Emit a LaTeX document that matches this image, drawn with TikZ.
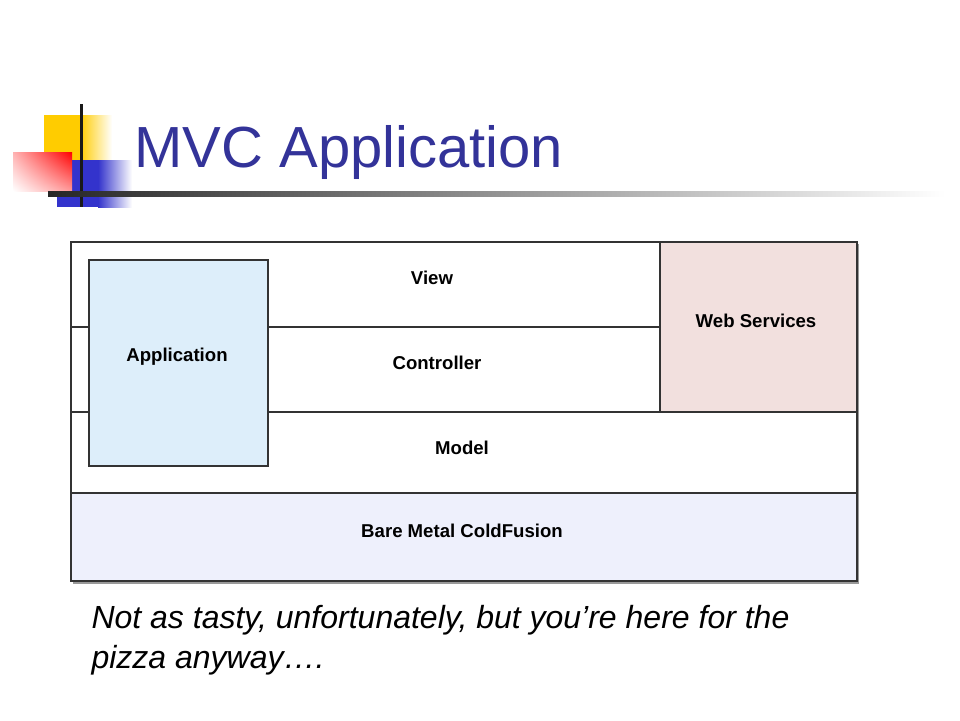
\documentclass[tikz,border=0pt]{standalone}
\usepackage{fontspec}
\setmainfont{Liberation Sans}
\usetikzlibrary{positioning,shadings}

\definecolor{titleblue}{HTML}{333399}
\definecolor{appblue}{HTML}{DDEEFA}
\definecolor{webpink}{HTML}{F2E0DE}
\definecolor{metalblue}{HTML}{EEF0FC}
\definecolor{logoyellow}{HTML}{FFCC00}
\definecolor{logoblue}{HTML}{3333CC}
\definecolor{framegray}{HTML}{333333}

\tikzset{
  layer/.style={rectangle,draw=framegray,line width=1.6pt,inner sep=0pt,anchor=north west},
  boxlabel/.style={font=\fontsize{18.6}{21}\selectfont\bfseries,text=black}
}

\begin{document}
\begin{tikzpicture}[x=1pt,y=-1pt]
  \useasboundingbox (0,0) rectangle (960,720);

  % logo
  \fill[logoyellow] (44,115) rectangle (80,160);
  \shade[left color=logoyellow,right color=white] (80,115) rectangle (112,160);
  \fill[logoblue] (57,160) rectangle (98,207);
  \shade[left color=logoblue,right color=white] (98,160) rectangle (132,207);
  \shade[upper right=red,upper left=red!30,lower left=white,lower right=red!40] (13,152) rectangle (72,191);
  \draw[line width=3pt,black!90] (81,104) -- (81,207);
  \shade[left color=black!85,middle color=black!30,right color=white] (48,191) rectangle (945,196);

  \node[anchor=base west,text=titleblue,font=\fontsize{58}{60}\selectfont] (title) at (131,167) {MVC Application};

  % diagram
  \fill[black!40] (73,244) rectangle (859,584);
  \begin{scope}[every node/.style={layer,fill=white}]
    \node[minimum width=589pt,minimum height=85pt] (view) at (70,241) {};
    \node[minimum width=589pt,minimum height=85pt] (controller) at (70,326) {};
    \node[minimum width=197pt,minimum height=170pt,fill=webpink] (web) at (659,241) {};
    \node[minimum width=786pt,minimum height=81pt] (model) at (70,411) {};
    \node[minimum width=786pt,minimum height=88pt,fill=metalblue] (metal) at (70,492) {};
    \node[minimum width=179pt,minimum height=206pt,fill=appblue] (app) at (88,259) {};
  \end{scope}

  \begin{scope}[every node/.style={boxlabel}]
    \node (viewlabel) at (432,278) {View};
    \node (controllerlabel) at (437,363) {Controller};
    \node (weblabel) at (756,321) {Web Services};
    \node (applabel) at (177,357) {Application};
    \node (modellabel) at (462,448) {Model};
    \node (metallabel) at (462,531) {Bare Metal ColdFusion};
  \end{scope}

  \node[anchor=base west,align=left,font=\itshape\fontsize{32}{40}\selectfont] (caption) at (88,668)
    {Not as tasty, unfortunately, but you’re here for the\\pizza anyway….};
\end{tikzpicture}
\end{document}
